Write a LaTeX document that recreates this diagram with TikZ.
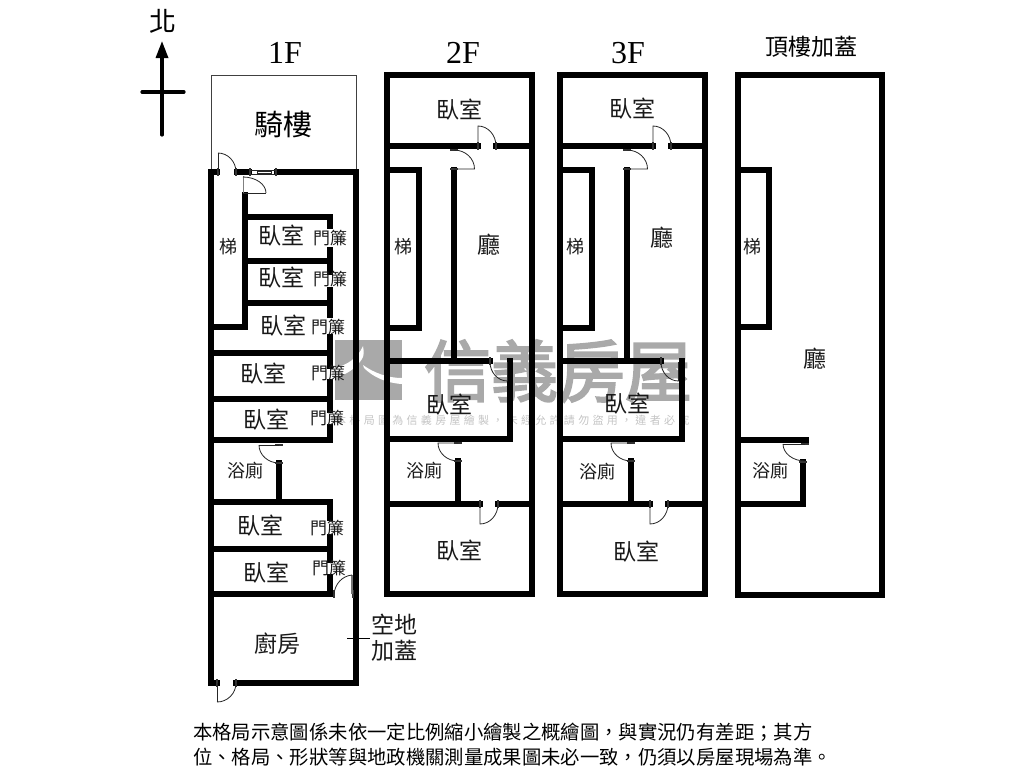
\documentclass[tikz,border=0pt]{standalone}
\usepackage{fontspec}
\setmainfont{Liberation Serif}
\newfontfamily\cjk{Noto Sans CJK TC}
\newfontfamily\cjkheavy[FakeBold=3]{Noto Sans CJK TC}
\newfontfamily\cjkmark[LetterSpace=30]{Noto Sans CJK TC}
\usetikzlibrary{arrows.meta,calc}
\definecolor{markgray}{HTML}{A9A9A9}
\definecolor{marklight}{HTML}{C4C4C4}
\tikzstyle{wall}=[line width=5.2pt, line cap=rect, black]
\tikzstyle{doorline}=[line width=0.8pt, black!85]
\tikzstyle{tick}=[line width=1.6pt, black!80]
\tikzstyle{room}=[font=\cjk\fontsize{23}{23}\selectfont, inner sep=0pt, text=black!90]
\tikzstyle{small}=[font=\cjk\fontsize{18}{18}\selectfont, inner sep=0pt, text=black!90]
\tikzstyle{curtain}=[font=\cjk\fontsize{17}{17}\selectfont, inner sep=0pt, text=black!90]
\tikzstyle{floorname}=[font=\fontsize{32}{32}\selectfont, inner sep=0pt]
% hinge, end of the leaf, end of the arc
\newcommand{\doorswing}[3]
{
  \draw[doorline] #1 -- #2;
  \draw[doorline] #2 .. controls ($#2+0.55*#3-0.55*#1$) and ($#3+0.55*#2-0.55*#1$) .. #3;
}
\newcommand{\drawupperfloor}[8]
{
  % #1 left, #2 door in top wall, #3 hall wall, #4 stair right, #5 room door, #6 room wall, #7 bath wall, #8 lower door
  \draw[wall] (#1,75) rectangle (#1+145,594);
  \draw[wall] (#1,146) -- (#2,146) (#2+18,146) -- (#1+145,146);
  \draw[wall] (#1,170) -- (#4,170) -- (#4,328) -- (#1,328);
  \draw[wall] (#3,170) -- (#3,361);
  \draw[wall] (#1,361) -- (#5,361);
  \draw[wall] (#6,361) -- (#6,439) -- (#1,439);
  \draw[wall] (#7,461) -- (#7,504);
  \draw[wall] (#1,504) -- (#8,504) (#8+18,504) -- (#1+145,504);
  \draw[tick] (#2,142) -- (#2,150) (#2+18,142) -- (#2+18,150);
  \draw[doorline] (#2,146) -- (#2,126) arc[start angle=90, end angle=0, x radius=18pt, y radius=20pt];
  \draw[tick] (#3-4,150) -- (#3+4,150) (#3-4,169) -- (#3+4,169);
  \draw[doorline] (#3,150) arc[start angle=90, end angle=0, x radius=20.5pt, y radius=19pt] -- (#3,169);
  \draw[tick] (#5,357) -- (#5,365);
  \draw[doorline] (#5,362) arc[start angle=180, end angle=270, x radius=17.5pt, y radius=19pt] -- (#5+17.5,362);
  \draw[tick] (#7-4,443) -- (#7+4,443) (#7-4,461) -- (#7+4,461);
  \draw[doorline] (#7,443) -- (#7-20,443) arc[start angle=180, end angle=270, x radius=20pt, y radius=18pt];
  \draw[tick] (#8,500) -- (#8,508) (#8+18,500) -- (#8+18,508);
  \draw[doorline] (#8,504) -- (#8,524) arc[start angle=270, end angle=360, x radius=18pt, y radius=20pt];
}

\begin{document}
\begin{tikzpicture}[x=1pt, y=-1pt]
	\useasboundingbox (0,0) rectangle (1024,768);

	% watermark
	\fill[markgray] (335,340) rectangle (402,400);
	\fill[white] (335,368) .. controls (347,365) and (358,358) .. (363,346) .. controls (364,352) and (364,356) .. (362,359) .. controls (356,368) and (347,375) .. (335,377) -- cycle;
	\fill[white] (363,365) .. controls (374,373) and (388,378) .. (402,378) -- (402,384) .. controls (386,383) and (373,377) .. (364,368) -- cycle;
	\node[inner sep=0pt, text=markgray, font=\cjkheavy\fontsize{67}{67}\selectfont](markname) at (558,371){信義房屋};
	\node[inner sep=0pt, text=marklight, anchor=west, font=\cjkmark\fontsize{11}{11}\selectfont](markline) at (335,420){本格局圖為信義房屋繪製，未經允許請勿盜用，違者必究};

	% north arrow
	\node[inner sep=0pt, font=\cjk\fontsize{27}{27}\selectfont](north) at (163,21){北};
	\coordinate (arrowtip) at (162,41);
	\coordinate (arrowend) at (162,135);
	\draw[line width=3.2pt, line cap=round, -{Triangle[length=17pt, width=12pt]}] (arrowend) -- (arrowtip);
	\draw[line width=3.2pt, line cap=round] (142,92) -- (184,92);

	% 1F
	\draw[line width=0.8pt, black!75] (211,172) -- (211,75) -- (356,75) -- (356,172);
	\draw[wall] (211,172) -- (211,683) -- (217,683) (236,683) -- (356,683) -- (356,172) -- (277,172);
	\draw[wall] (211,172) -- (217,172) (237,172) -- (249,172);
	\draw[wall] (245,195) -- (245,327) -- (211,327);
	\draw[wall] (245,217) -- (330,217) -- (330,226);
	\draw[wall] (245,261) -- (330,261);
	\draw[wall] (245,303) -- (330,303);
	\draw[wall] (330,250) -- (330,272) (330,290) -- (330,315) (330,337) -- (330,366);
	\draw[wall] (211,353) -- (330,353);
	\draw[wall] (330,382) -- (330,410) (211,399) -- (330,399);
	\draw[wall] (330,427) -- (330,440) -- (211,440);
	\draw[wall] (279,463) -- (279,502) (211,502) -- (330,502) -- (330,518);
	\draw[wall] (330,537) -- (330,560) (211,549) -- (330,549);
	\draw[wall] (330,577) -- (330,594) -- (211,594);
	\draw[tick] (218,168) -- (218,176) (236,168) -- (236,176);
	\doorswing{(218,172)}{(218,153)}{(236,172)}
	\draw[doorline] (250,170) -- (276,170) (250,174) -- (276,174) (257,171) rectangle (271,173);
	\draw[tick] (250,168) -- (250,176) (276,168) -- (276,176);
	\draw[doorline, black!50] (243,176) -- (243,193);
	\doorswing{(243,193)}{(266,193)}{(243,177)}
	\draw[tick] (275,445) -- (283,445) (275,463) -- (283,463);
	\doorswing{(279,445)}{(259,445)}{(279,463)}
	\draw[tick] (334,590) -- (334,598) (353,590) -- (353,598);
	\draw[line width=1.6pt, black!55] (352,594) -- (352,575);
	\draw[doorline] (352,575) .. controls (342,576) and (335,584) .. (334,594);
	\draw[tick] (217,679) -- (217,687) (236,679) -- (236,687);
	\doorswing{(217,683)}{(217,702)}{(236,683)}
	\coordinate (yardend) at (370,638);
	\coordinate (yardstart) at (347,638);
	\draw[line width=0.8pt] (yardstart) -- (yardend);

	% other floors
	\drawupperfloor{387}{478}{454}{419}{490}{510}{458}{480}
	\drawupperfloor{560}{653}{627}{592}{661}{682}{631}{650}

	% roof
	\draw[wall] (738,75) rectangle (882,595);
	\draw[wall] (738,170) -- (769,170) -- (769,327) -- (738,327);
	\draw[wall] (738,440) -- (806,440);
	\draw[wall] (803,462) -- (803,504) -- (738,504);
	\draw[tick] (801,444) -- (809,444) (799,462) -- (807,462);
	\doorswing{(805,444)}{(783,444)}{(805,461)}

	% labels
	\node[floorname](f1) at (285,53){1F};
	\node[floorname](f2) at (463,53){2F};
	\node[floorname](f3) at (628,53){3F};
	\node[inner sep=0pt, font=\cjk\fontsize{23}{23}\selectfont](f4) at (811,47){頂樓加蓋};

	\node[inner sep=0pt, font=\cjk\fontsize{29}{29}\selectfont](arcade) at (283,124){騎樓};
	\node[small](stair1) at (228,247){梯};
	\node[room](bed1) at (281,236){臥室};
	\node[curtain](cur1) at (330,238){門簾};
	\node[room](bed2) at (281,278){臥室};
	\node[curtain](cur2) at (330,279){門簾};
	\node[room](bed3) at (283,326){臥室};
	\node[curtain](cur3) at (328,327){門簾};
	\node[room](bed4) at (263,374){臥室};
	\node[curtain](cur4) at (328,373){門簾};
	\node[room](bed5) at (266,420){臥室};
	\node[curtain](cur5) at (327,418){門簾};
	\node[small](bath1) at (245,471){浴廁};
	\node[room](bed6) at (260,526){臥室};
	\node[curtain](cur6) at (327,528){門簾};
	\node[room](bed7) at (266,573){臥室};
	\node[curtain](cur7) at (329,568){門簾};
	\node[room](kitchen) at (277,644){廚房};
	\node[room](yard1) at (394,624){空地};
	\node[room](yard2) at (394,651){加蓋};

	\node[room](bed8) at (459,110){臥室};
	\node[room](hall2) at (489,245){廳};
	\node[small](stair2) at (403,247){梯};
	\node[room](bed9) at (449,405){臥室};
	\node[small](bath2) at (424,471){浴廁};
	\node[room](bed10) at (459,551){臥室};

	\node[room](bed11) at (632,109){臥室};
	\node[room](hall3) at (662,238){廳};
	\node[small](stair3) at (575,247){梯};
	\node[room](bed12) at (627,404){臥室};
	\node[small](bath3) at (597,472){浴廁};
	\node[room](bed13) at (636,552){臥室};

	\node[small](stair4) at (752,247){梯};
	\node[room](hall4) at (815,359){廳};
	\node[small](bath4) at (770,471){浴廁};

	% note
	\node[inner sep=0pt, anchor=west, font=\cjk\fontsize{19.35}{19.35}\selectfont](note1) at (193,732){本格局示意圖係未依一定比例縮小繪製之概繪圖，與實況仍有差距；其方};
	\node[inner sep=0pt, anchor=west, font=\cjk\fontsize{19.35}{19.35}\selectfont](note2) at (193,757){位、格局、形狀等與地政機關測量成果圖未必一致，仍須以房屋現場為準。};
\end{tikzpicture}
\end{document}
